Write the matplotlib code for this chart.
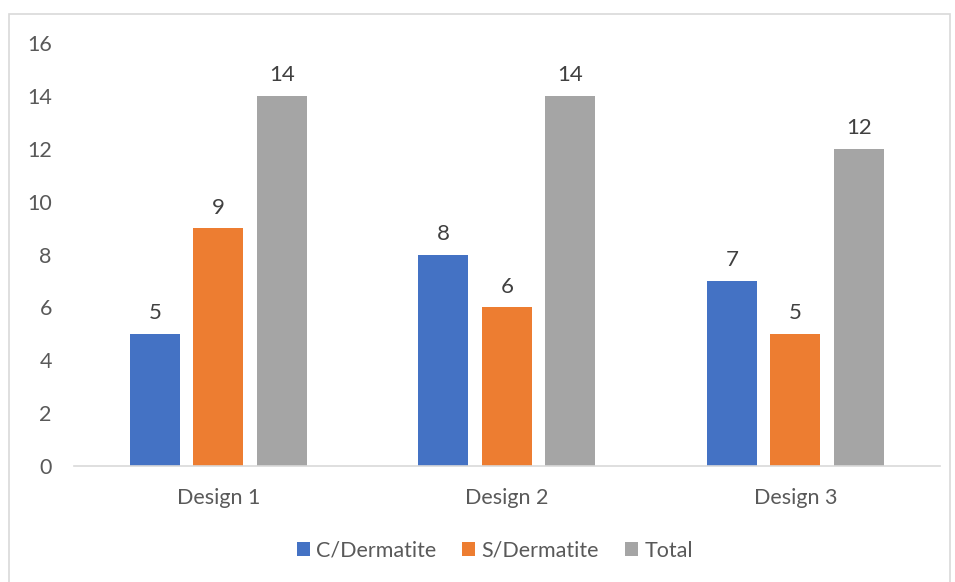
import matplotlib.pyplot as plt
import numpy as np
from matplotlib.patches import Rectangle

# chart data
categories = ["Design 1", "Design 2", "Design 3"]
c_derm = [5, 8, 7]
s_derm = [9, 6, 5]
total = [14, 14, 12]
series_names = ["C/Dermatite", "S/Dermatite", "Total"]
colors = ["#4472C4", "#ED7D31", "#A5A5A5"]

plt.rcParams['font.family'] = ['Lato', 'DejaVu Sans']
text_color = "#595959"

fig = plt.figure(figsize=(9.55, 5.82), dpi=100)
ax = fig.add_axes([0.0775, 0.1993, 0.9065, 0.7267])

# light frame around the chart area
fig.patches.append(Rectangle((9 / 955, -0.01), 0.995 - 9 / 955, 1 - 14 / 582 + 0.01,
                             transform=fig.transFigure, fill=False,
                             edgecolor="#D9D9D9", linewidth=1.2))

x = np.arange(len(categories))
width = 0.173
offset = 0.22
for i, (vals, name, col) in enumerate(zip([c_derm, s_derm, total], series_names, colors)):
    bars = ax.bar(x + (i - 1) * offset, vals, width, color=col, label=name)
    for b, v in zip(bars, vals):
        ax.text(b.get_x() + b.get_width() / 2, v + 0.4, str(v), ha="center", va="bottom",
                fontsize=16, color="#404040")

ax.set_xlim(-0.5, 2.5)
ax.set_ylim(0, 16)
ax.set_yticks(range(0, 17, 2))
ax.set_xticks(x)
ax.set_xticklabels(categories)
ax.tick_params(axis="both", length=0, labelsize=15.5, colors=text_color)
ax.tick_params(axis="x", pad=16)
ax.tick_params(axis="y", pad=16)
for s in ["top", "right", "left"]:
    ax.spines[s].set_visible(False)
ax.spines["bottom"].set_color("#D9D9D9")
ax.spines["bottom"].set_linewidth(1.2)

ax.legend(loc="center", bbox_to_anchor=(0.486, -0.2), ncol=3, frameon=False,
          fontsize=15.5, handlelength=0.6, handleheight=0.6, handletextpad=0.3,
          columnspacing=1.2, labelcolor=text_color)

fig.savefig("out.png", dpi=100)
